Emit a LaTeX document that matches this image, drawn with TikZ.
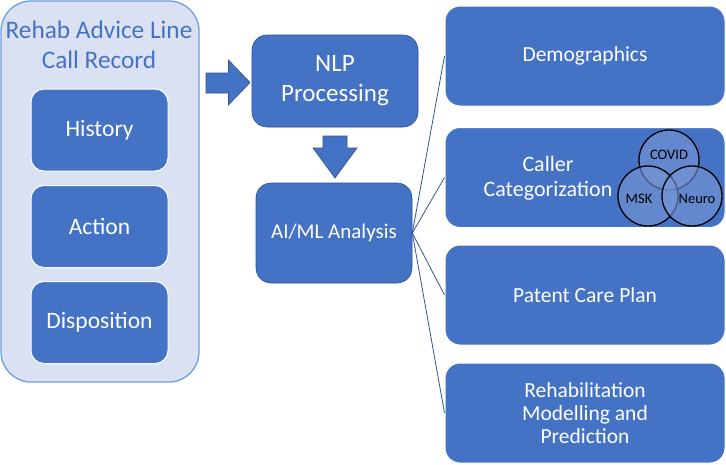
\documentclass[tikz,border=0pt]{standalone}
\usepackage{fontspec}
\setmainfont{Carlito}
\definecolor{boxblue}{HTML}{4472C4}
\definecolor{boxedge}{HTML}{2F528F}
\definecolor{panelfill}{HTML}{DAE1F3}
\definecolor{paneledge}{HTML}{6FA0DC}
\definecolor{linkblue}{HTML}{2F5597}
\definecolor{vennfill}{HTML}{7897D6}
\begin{document}
\begin{tikzpicture}[x=1pt,y=-1pt,
  panel/.style={draw=paneledge,line width=1.3pt,fill=panelfill,rounded corners=30pt,minimum width=198pt,minimum height=381pt},
  itembox/.style={draw=white,line width=1pt,fill=boxblue,rounded corners=13pt,minimum width=137pt,minimum height=82pt,text=white,font=\fontsize{23.5}{25}\selectfont},
  mainbox/.style={draw=boxedge,line width=0.6pt,fill=boxblue,rounded corners=15pt,text=white,align=center},
  outbox/.style={draw=white,line width=1pt,fill=boxblue,rounded corners=15pt,minimum width=280pt,minimum height=100pt,text=white,align=center,font=\fontsize{21.5}{23}\selectfont},
  blockarrow/.style={fill=boxblue,draw=boxedge,line width=0.6pt},
  link/.style={draw=linkblue,line width=0.8pt},
  venn/.style={draw=black,line width=1.3pt,fill=vennfill,fill opacity=0.6,circle,minimum size=60pt,inner sep=0pt},
  vennlabel/.style={text=black,font=\fontsize{14.5}{15}\selectfont}
]
\useasboundingbox (0,0) rectangle (726,464);
% left panel
\node[panel] (panel) at (100,191.5) {};
\node[text=boxblue,align=center,font=\fontsize{25.3}{30}\selectfont] (title) at (99,45) {Rehab Advice Line\\Call Record};
\node[itembox] (history) at (99.5,130) {History};
\node[itembox] (action) at (99.5,226.5) {Action};
\node[itembox] (disp) at (99.5,322.5) {Disposition};
% block arrows
\draw[blockarrow] (206,73) -- (228.5,73) -- (228.5,60) -- (250,82.5) -- (228.5,105) -- (228.5,93) -- (206,93) -- cycle;
\draw[blockarrow] (323,136) -- (347,136) -- (347,148) -- (357,148) -- (335,178) -- (313,148) -- (323,148) -- cycle;
% middle
\node[mainbox,minimum width=166pt,minimum height=92pt,font=\fontsize{25}{30}\selectfont] (nlp) at (335,81) {NLP\\Processing};
\node[mainbox,minimum width=156pt,minimum height=100pt,font=\fontsize{21}{24}\selectfont] (ai) at (334,233) {AI/ML Analysis};
% right boxes
\node[outbox] (demo) at (585,56) {Demographics};
\node[outbox] (caller) at (585,177.5) {};
\node[outbox] (care) at (585,295) {Patent Care Plan};
\node[outbox] (rehab) at (585,413) {Rehabilitation\\Modelling and\\Prediction};
\node[text=white,align=center,font=\fontsize{22}{25}\selectfont] (callertext) at (548,178) {Caller\\Categorization};
% venn
\node[venn] (covid) at (669,160) {};
\node[venn] (msk) at (648,196) {};
\node[venn] (neuro) at (692,196) {};
\node[vennlabel] at (669,155) {COVID};
\node[vennlabel] at (639,199) {MSK};
\node[vennlabel] at (697,199) {Neuro};
% connectors
\draw[link] (ai.east) -- (demo.west);
\draw[link] (ai.east) -- (caller.west);
\draw[link] (ai.east) -- (care.west);
\draw[link] (ai.east) -- (rehab.west);
\end{tikzpicture}
\end{document}
